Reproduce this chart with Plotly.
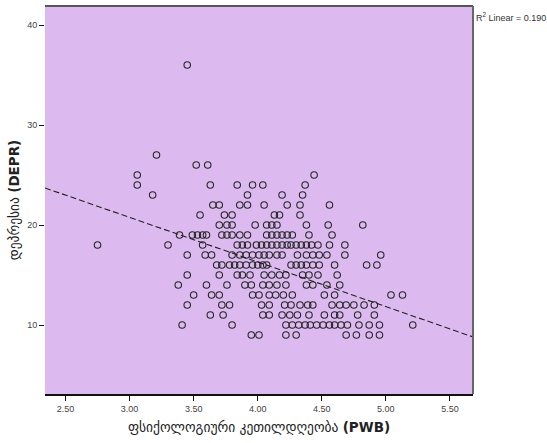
import plotly.graph_objects as go

# Psychological well-being (PWB) score per respondent, listed row by row
pwb = [
    3.45,
    3.21,
    3.52, 3.61,
    3.06, 4.44,
    3.06, 3.63, 3.84, 3.96, 4.04, 4.37,
    3.18, 3.92, 4.19, 4.35,
    3.65, 3.70, 3.86, 3.92, 4.05, 4.23, 4.33, 4.56,
    3.55, 3.74, 3.80, 4.13, 4.17, 4.33,
    3.70, 3.76, 3.80, 3.98, 4.07, 4.11, 4.15, 4.38, 4.55, 4.82,
    3.39, 3.49, 3.53, 3.57, 3.60, 3.72, 3.76, 3.80, 3.86, 3.92, 4.07, 4.11, 4.15, 4.19, 4.23, 4.27, 4.40, 4.58,
    2.75, 3.30, 3.57, 3.84, 3.88, 3.92, 3.99, 4.03, 4.07, 4.11, 4.15, 4.19, 4.23, 4.26, 4.30, 4.34, 4.38, 4.42, 4.47, 4.56, 4.68,
    3.45, 3.59, 3.64, 3.80, 3.86, 3.91, 3.96, 4.01, 4.05, 4.09, 4.15, 4.19, 4.31, 4.38, 4.43, 4.48, 4.54, 4.68, 4.96,
    3.68, 3.72, 3.78, 3.82, 3.86, 3.91, 3.96, 4.00, 4.04, 4.07, 4.26, 4.30, 4.34, 4.38, 4.43, 4.48, 4.60, 4.85, 4.93,
    3.45, 3.70, 3.84, 3.88, 3.94, 4.05, 4.11, 4.17, 4.22, 4.35, 4.40, 4.47, 4.62,
    3.38, 3.60, 3.76, 3.90, 3.95, 4.04, 4.09, 4.15, 4.22, 4.38, 4.43, 4.54, 4.64,
    3.50, 3.64, 3.70, 3.96, 4.01, 4.09, 4.14, 4.20, 4.27, 4.52, 4.60, 5.04, 5.13,
    3.45, 3.72, 3.78, 4.03, 4.09, 4.21, 4.26, 4.33, 4.39, 4.43, 4.58, 4.64, 4.69, 4.75, 4.83, 4.91,
    3.63, 3.73, 4.04, 4.09, 4.19, 4.25, 4.31, 4.40, 4.52, 4.60, 4.64, 4.78, 4.91,
    3.41, 3.80, 4.22, 4.27, 4.32, 4.37, 4.41, 4.46, 4.51, 4.56, 4.60, 4.65, 4.70, 4.79, 4.87, 4.95, 5.21,
    3.95, 4.01, 4.22, 4.30, 4.69, 4.77, 4.87, 4.95,
]

# Depression (DEPR) score for the same respondents, row by row
depr = [
    36,
    27,
    26, 26,
    25, 25,
    24, 24, 24, 24, 24, 24,
    23, 23, 23, 23,
    22, 22, 22, 22, 22, 22, 22, 22,
    21, 21, 21, 21, 21, 21,
    20, 20, 20, 20, 20, 20, 20, 20, 20, 20,
    19, 19, 19, 19, 19, 19, 19, 19, 19, 19, 19, 19, 19, 19, 19, 19, 19, 19,
    18, 18, 18, 18, 18, 18, 18, 18, 18, 18, 18, 18, 18, 18, 18, 18, 18, 18, 18, 18, 18,
    17, 17, 17, 17, 17, 17, 17, 17, 17, 17, 17, 17, 17, 17, 17, 17, 17, 17, 17,
    16, 16, 16, 16, 16, 16, 16, 16, 16, 16, 16, 16, 16, 16, 16, 16, 16, 16, 16,
    15, 15, 15, 15, 15, 15, 15, 15, 15, 15, 15, 15, 15,
    14, 14, 14, 14, 14, 14, 14, 14, 14, 14, 14, 14, 14,
    13, 13, 13, 13, 13, 13, 13, 13, 13, 13, 13, 13, 13,
    12, 12, 12, 12, 12, 12, 12, 12, 12, 12, 12, 12, 12, 12, 12, 12,
    11, 11, 11, 11, 11, 11, 11, 11, 11, 11, 11, 11, 11,
    10, 10, 10, 10, 10, 10, 10, 10, 10, 10, 10, 10, 10, 10, 10, 10, 10,
    9, 9, 9, 9, 9, 9, 9, 9,
]

# Linear fit of DEPR on PWB
fit_intercept = 34.14
fit_slope = -4.46
r2_linear = "0.190"

x_ticks = [2.5, 3.0, 3.5, 4.0, 4.5, 5.0, 5.5]
x_tick_text = ["2.50", "3.00", "3.50", "4.00", "4.50", "5.00", "5.50"]
y_ticks = [10, 20, 30, 40]

x_range = [2.34, 5.68]
y_range = [3.1, 41.9]

fit_x = x_range
fit_y = [fit_intercept + fit_slope * v for v in fit_x]

fig = go.Figure()
fig.add_trace(go.Scatter(
    x=pwb, y=depr, mode="markers",
    marker=dict(symbol="circle-open", size=6.5, color="#262626",
                line=dict(width=1.1, color="#262626")),
    showlegend=False,
))
fig.add_trace(go.Scatter(
    x=fit_x, y=fit_y, mode="lines",
    line=dict(color="#222222", width=1.1, dash="6px,3px"),
    showlegend=False,
))

tick_font = dict(family="Liberation Sans, Arial, sans-serif", size=9, color="#444444")
title_font = dict(family="DejaVu Sans, sans-serif", size=13.5, color="#222222")

fig.update_layout(
    width=547, height=443,
    margin=dict(l=45, r=74, t=6, b=49),
    paper_bgcolor="white",
    plot_bgcolor="#DCBAF0",
    xaxis=dict(
        range=x_range, tickvals=x_ticks, ticktext=x_tick_text,
        showgrid=False, zeroline=False,
        showline=True, linecolor="#111111", linewidth=1.5,
        ticks="outside", ticklen=5, tickwidth=1, tickcolor="#111111",
        tickfont=tick_font,
        title=dict(text="ფსიქოლოგიური კეთილდღეობა <b>(PWB)</b>", font=title_font, standoff=10),
    ),
    yaxis=dict(
        range=y_range, tickvals=y_ticks,
        showgrid=False, zeroline=False, showline=False,
        ticks="outside", ticklen=5, tickwidth=1, tickcolor="#111111",
        tickfont=tick_font,
        title=dict(text="დეპრესია <b>(DEPR)</b>", font=title_font, standoff=4),
    ),
    shapes=[
        dict(type="line", xref="paper", yref="paper", x0=0, x1=1, y0=1, y1=1,
             line=dict(color="#555555", width=2)),
        dict(type="line", xref="paper", yref="paper", x0=1, x1=1, y0=0, y1=1,
             line=dict(color="#666666", width=2)),
    ],
    annotations=[
        dict(xref="paper", yref="paper", x=1.0, y=1.0, xanchor="left", yanchor="top",
             xshift=1, yshift=-3,
             text=f"R<sup>2</sup> Linear = {r2_linear}", showarrow=False,
             font=dict(family="Liberation Sans, Arial, sans-serif", size=9, color="#333333")),
    ],
)

fig.write_html("out.html")
